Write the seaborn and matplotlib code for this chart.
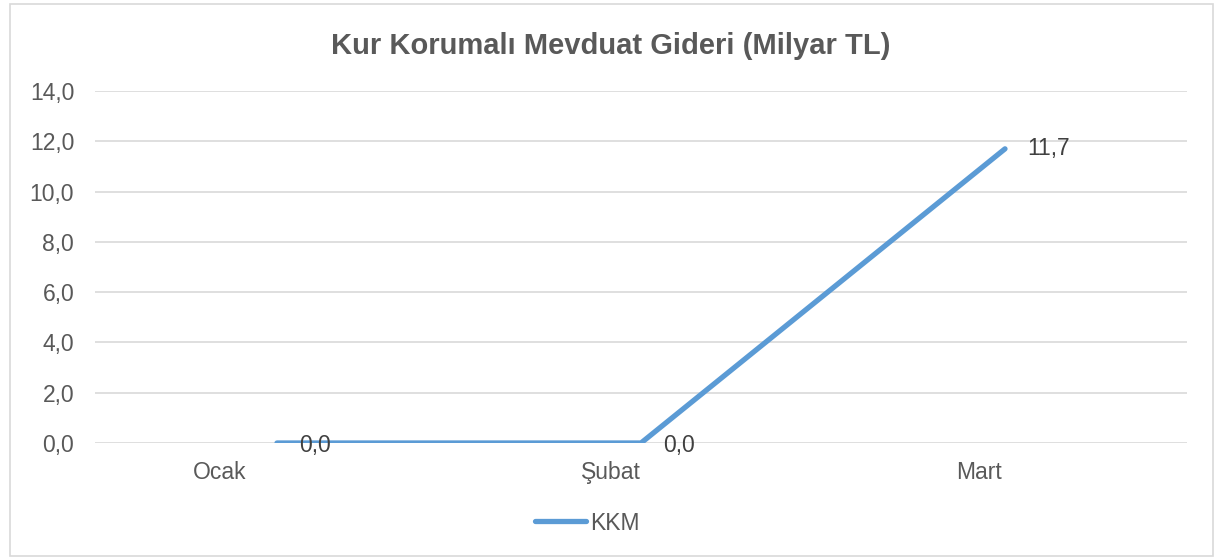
import matplotlib
matplotlib.use("Agg")
import matplotlib.pyplot as plt
import matplotlib.transforms as mtransforms
from matplotlib.patches import Rectangle
import seaborn as sns
import pandas as pd

months = ["Ocak", "Şubat", "Mart"]
kkm = [0.0, 0.0, 11.7]
series_name = "KKM"
title = "Kur Korumalı Mevduat Gideri (Milyar TL)"
yticks = [0, 2, 4, 6, 8, 10, 12, 14]

sns.set_style("white")
plt.rcParams["font.family"] = ["Liberation Sans", "DejaVu Sans"]

df = pd.DataFrame({"Ay": months, "Gider": kkm})

fig = plt.figure(figsize=(12.14, 5.59), dpi=100)
ax = fig.add_axes([95 / 1214, 1 - 443 / 559, 1092 / 1214, 352 / 559])

sns.lineplot(data=df, x="Ay", y="Gider", ax=ax, color="#5B9BD5", linewidth=3.8,
             solid_capstyle="round", label=series_name, legend=False)

ax.set_xlim(-0.5, 2.5)
ax.set_ylim(0, 14)
ax.set_yticks(yticks)
ax.set_yticklabels([f"{v:.1f}".replace(".", ",") for v in yticks])
ax.yaxis.grid(True, color="#D9D9D9", linewidth=1.2)
ax.set_axisbelow(True)
for s in ax.spines.values():
    s.set_visible(False)
ax.tick_params(axis="y", length=0, pad=15, labelsize=16.5, labelcolor="#595959")
ax.tick_params(axis="x", length=0, pad=13, labelsize=16.5, labelcolor="#595959")
ax.set_xlabel("")
ax.set_ylabel("")

# Excel kaydirmasi: kategori etiketleri biraz sola
shifts = [-0.57, -0.30, -0.26]
for lab, dx in zip(ax.get_xticklabels(), shifts):
    lab.set_transform(lab.get_transform() + mtransforms.ScaledTranslation(dx, 0, fig.dpi_scale_trans))

# veri etiketleri
for i, v in enumerate(kkm):
    dy = -2 if v == 0 else 0
    ax.annotate(f"{v:.1f}".replace(".", ","), (i, v), xytext=(16, dy), textcoords="offset points",
                ha="left", va="center", fontsize=16.5, color="#404040")

fig.text(0.503, 1 - 46 / 559, title, ha="center", va="center", fontsize=21,
         fontweight="bold", color="#595959")

handles, labels = ax.get_legend_handles_labels()
fig.legend(handles, labels, loc="center", bbox_to_anchor=(0.484, 1 - 523 / 559), frameon=False,
           fontsize=16.5, labelcolor="#595959", handlelength=2.2, handletextpad=0.2)

fig.patches.append(Rectangle((10 / 1214, 3 / 559), 1 - 11 / 1214, 1 - 7 / 559, transform=fig.transFigure,
                             fill=False, edgecolor="#D9D9D9", linewidth=1.2))

fig.savefig("out.png", dpi=100)
